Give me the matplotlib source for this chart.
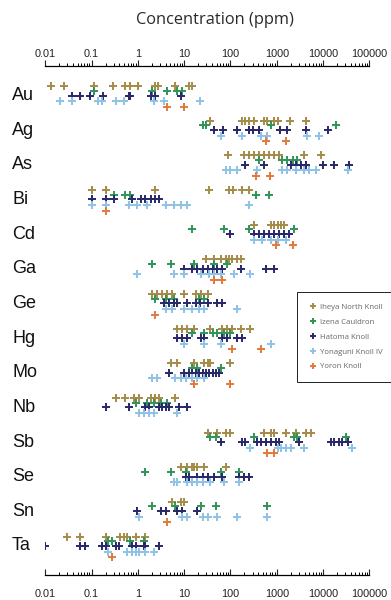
import matplotlib
matplotlib.use("Agg")
import matplotlib.pyplot as plt
from matplotlib.ticker import FixedLocator, FixedFormatter, LogLocator, NullFormatter

# Elements (rows, top to bottom) and decade tick labels
elements = ["Au", "Ag", "As", "Bi", "Cd", "Ga", "Ge", "Hg", "Mo", "Nb", "Sb", "Se", "Sn", "Ta"]
decades = [0.01, 0.1, 1, 10, 100, 1000, 10000, 100000]
decade_labels = ["0.01", "0.1", "1", "10", "100", "1000", "10000", "100000"]

# Concentrations (ppm) per element, one list per site
iheya_north = [
    [0.013, 0.025, 0.11, 0.29, 0.54, 0.69, 1.0, 2.4, 2.7, 6.5, 12.6, 15],
    [37, 180, 210, 250, 320, 530, 630, 870, 1040, 1900, 4200],
    [88, 200, 250, 320, 410, 530, 680, 870, 1120, 3900, 9000],
    [0.10, 0.21, 2.4, 34, 93, 115, 180, 250],
    [320, 740, 870, 1040, 1220, 1440],
    [29, 44, 61, 79, 93, 110, 140, 166],
    [2.0, 2.6, 3.4, 4.3, 5.5, 9.9, 17.7, 23, 32],
    [7.1, 9.1, 11.7, 16, 37, 67, 86, 110, 166, 270],
    [5.1, 7.1, 16, 27, 32, 37, 100],
    [0.33, 0.54, 0.81, 1.05, 1.9, 2.4, 2.8, 6.5],
    [32, 52, 79, 100, 530, 740, 870, 1570, 2600, 4200, 5400],
    [8.4, 11.7, 15, 16, 19, 27, 79],
    [5.5, 8.4, 9.9],
    [0.030, 0.057, 0.20, 0.42, 0.50, 0.59, 0.89, 1.46],
]
izena_cauldron = [
    [0.11, 2.0, 4.3, 7.1, 9.1],
    [25, 29, 740, 19000],
    [410, 1330, 1700, 2200, 2800],
    [0.31, 0.54, 0.67, 350, 680],
    [15, 72, 250, 2370],
    [2.0, 5.1, 16, 44, 86],
    [2.4, 4.0, 6.0, 21, 27],
    [15, 27, 41, 52, 72, 100],
    [15, 19, 61],
    [0.89, 1.6, 2.2, 3.1, 4.3],
    [37, 48, 320, 2370, 2800, 31000],
    [1.46, 5.1, 10.7, 61, 150],
    [2.0, 6.5, 23, 48, 630],
    [0.23, 0.28, 0.69, 1.34],
]
hatoma = [
    [0.038, 0.057, 0.094, 0.18, 0.64, 0.66, 1.9, 2.4, 8.4],
    [44, 70, 140, 250, 300, 410, 1180, 1650, 4200, 12900],
    [210, 530, 2000, 2600, 3300, 4200, 9800, 17000, 37000],
    [0.10, 0.21, 0.31, 0.75, 1.14, 1.46, 1.9, 2.4, 2.8],
    [100, 320, 410, 530, 680, 870, 1120, 1440, 1850],
    [9.9, 15, 19, 25, 32, 41, 52, 67, 166, 580, 870],
    [3.6, 4.7, 6.0, 7.1, 11.7, 17.7, 22, 32, 52, 67],
    [7.1, 9.1, 11.7, 23, 27, 67, 86, 140, 180],
    [4.7, 9.9, 12.6, 15, 17.7, 21, 25, 29, 34, 41, 48, 56],
    [0.21, 0.64, 1.46, 1.7, 2.8, 3.3, 4.0, 4.7, 7.7, 11.7],
    [61, 180, 210, 380, 450, 580, 740, 950, 1120, 3000, 14800, 17000, 22000, 26000, 34000],
    [10.7, 12.6, 19, 25, 32, 44, 67, 150, 196, 250],
    [0.97, 3.1, 4.0, 7.1, 9.1, 19],
    [0.010, 0.057, 0.073, 0.17, 0.20, 0.33, 0.39, 0.75, 0.89, 1.34, 1.46, 2.8],
]
yonaguni_iv = [
    [0.021, 0.038, 0.14, 0.17, 0.33, 0.50, 2.2, 3.6, 22],
    [61, 180, 450, 630, 4600, 8200],
    [79, 100, 140, 380, 1330, 1700, 2600, 3900, 5000, 7000, 34000],
    [0.10, 0.21, 0.64, 0.97, 1.6, 4.0, 6.0, 8.4, 11.7, 250],
    [320, 490, 740, 1040, 1570],
    [0.97, 6.0, 9.9, 23, 34, 44, 61, 119, 270],
    [4.0, 5.5, 9.9, 15, 21, 27, 140],
    [9.9, 27, 61, 740],
    [2.0, 2.6, 6.5, 8.4, 10.7, 15, 19, 27],
    [1.05, 1.34, 1.7, 2.2, 7.1],
    [270, 1040, 1220, 1570, 2000, 3900, 43000],
    [6.0, 7.1, 11.7, 15, 19, 25, 37, 72, 150],
    [1.05, 9.1, 11.7, 25, 32, 52, 140, 630],
    [0.23, 0.59, 0.75, 0.89, 1.05, 1.46, 2.2],
]
yoron = [
    [4.2, 10],
    [580, 1570],
    [350, 720],
    [0.21],
    [950, 2200],
    [44, 67],
    [2.4],
    [110, 450],
    [16, 100],
    [],
    [630, 870],
    [],
    [4.2],
    [0.28],
]

site_names = ["Iheya North Knoll", "Izena Cauldron", "Hatoma Knoll",
              "Yonaguni Knoll IV", "Yoron Knoll"]
site_data = [iheya_north, izena_cauldron, hatoma, yonaguni_iv, yoron]
site_colors = ["#a48c48", "#2f9457", "#27276a", "#8ec2e6", "#e2793a"]
row_offsets = [-0.27, -0.14, 0.0, 0.16, 0.32]

W, H = 391, 600
fig = plt.figure(figsize=(W / 100, H / 100), dpi=100)
ax_left, ax_right = 45.3, 369.3
ax_top, ax_bottom = 66, 575
ax = fig.add_axes([ax_left / W, 1 - ax_bottom / H,
                   (ax_right - ax_left) / W, (ax_bottom - ax_top) / H])

for name, data, color, off in zip(site_names, site_data, site_colors, row_offsets):
    first = True
    for i, vals in enumerate(data):
        if not vals:
            continue
        ax.plot(vals, [i + off] * len(vals), ls="none", marker="+", ms=5.8,
                mew=1.4, color=color, label=name if first else None)
        first = False

row_px = (546 - 95.5) / 13
ax.set_xscale("log")
ax.set_xlim(0.01, 100000)
ax.set_ylim(13 + (ax_bottom - 546) / row_px, -(95.5 - ax_top) / row_px)
ax.set_yticks([])
for s in ("left", "right", "top"):
    ax.spines[s].set_visible(False)
ax.spines["bottom"].set_linewidth(0.9)


def style_ruler(axis_obj, direction, pad):
    axis_obj.xaxis.set_major_locator(FixedLocator(decades))
    axis_obj.xaxis.set_major_formatter(FixedFormatter(decade_labels))
    axis_obj.xaxis.set_minor_locator(LogLocator(base=10, subs=range(2, 10), numticks=20))
    axis_obj.xaxis.set_minor_formatter(NullFormatter())
    axis_obj.tick_params(axis="x", which="major", direction=direction, length=4.3,
                         width=0.8, pad=pad, labelsize=7.8, colors="#222222")
    axis_obj.tick_params(axis="x", which="minor", direction=direction, length=2.2,
                         width=0.7)
    for lab in axis_obj.get_xticklabels():
        lab.set_fontfamily("Liberation Sans")

# bottom ruler: ticks rise from the line
style_ruler(ax, "in", 10.0)

# top ruler: ticks also rise from the line
top = ax.twiny()
top.set_xscale("log")
top.set_xlim(ax.get_xlim())
for s in ("left", "right", "bottom"):
    top.spines[s].set_visible(False)
top.spines["top"].set_linewidth(0.9)
style_ruler(top, "out", 1.0)

for i, el in enumerate(elements):
    ax.text((12 - ax_left) / (ax_right - ax_left), i, el, transform=ax.get_yaxis_transform(),
            ha="left", va="center", fontsize=13, family="Liberation Sans", color="#111111")

fig.text(215 / W, 1 - 20.5 / H, "Concentration (ppm)", ha="center", va="center",
         fontsize=11.8, family="Open Sans", color="#2a2a2a")

leg = ax.legend(loc="upper left", bbox_to_anchor=(297 / W, 1 - 292 / H),
                bbox_transform=fig.transFigure, fontsize=5.6, frameon=True,
                fancybox=False, edgecolor="#222222", framealpha=1,
                handlelength=1.0, handletextpad=0.5, labelspacing=0.95,
                borderpad=1.5, borderaxespad=0, markerscale=0.8)
leg.get_frame().set_linewidth(0.7)
for t in leg.get_texts():
    t.set_color("#666666")
    t.set_fontfamily("Open Sans")

fig.savefig("out.png", dpi=100)
